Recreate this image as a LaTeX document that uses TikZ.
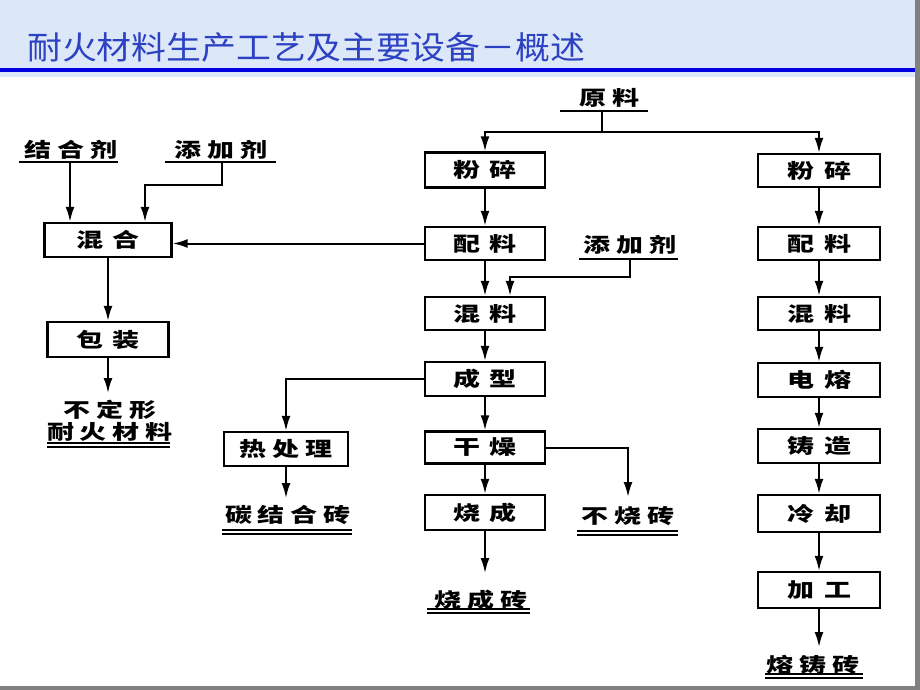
\documentclass[tikz,border=0pt]{standalone}
\usepackage{fontspec}
\usepackage{graphicx}
\setmainfont{Noto Sans CJK SC}
\newfontfamily\widecjk[FakeStretch=1.35]{Noto Sans CJK SC}
\newfontfamily\titlecjk[FakeStretch=1.09]{Noto Sans CJK SC}
\usetikzlibrary{arrows.meta,calc}
\definecolor{bandblue}{RGB}{220,232,248}
\definecolor{titleblue}{RGB}{45,65,195}
\definecolor{ruleblue}{RGB}{0,0,225}
\definecolor{edgegray}{RGB}{128,128,128}
\newcommand\bgap{\hspace{10pt}}
\newcommand\lgap{\hspace{6pt}}
\begin{document}
\begin{tikzpicture}[x=1pt,y=-1pt,
  box/.style={draw=black, line width=2.4pt, minimum width=120pt, minimum height=34pt, inner sep=0pt,
    font=\widecjk\bfseries\fontsize{20}{22}\selectfont},
  lab/.style={inner sep=0pt, font=\widecjk\bfseries\fontsize{20}{22}\selectfont},
  arr/.style={line width=2pt, -{Latex[length=15pt,width=9pt]}},
  con/.style={line width=2pt},
  ul/.style={line width=2pt},
  dul/.style={line width=2pt, double distance=1.5pt},
]
\useasboundingbox (0,0) rectangle (920,690);
% background
\fill[white] (0,0) rectangle (920,690);
\fill[bandblue] (0,0) rectangle (915,77);
\fill[ruleblue] (0,68) rectangle (915,72);
\fill[edgegray] (915,0) rectangle (920,690);
\fill[edgegray] (0,686) rectangle (920,690);
\node[anchor=west, inner sep=0pt, text=titleblue, font=\titlecjk\fontsize{32}{34}\selectfont] (title) at (27,47) {耐火材料生产工艺及主要设备－概述};

% labels (inputs)
\node[lab] (yl) at (609,98) {原\lgap 料};
\node[lab] (jhj) at (71,150) {结\lgap 合\lgap 剂};
\node[lab] (tj1) at (221,150) {添\lgap 加\lgap 剂};
\node[lab] (tj2) at (630,245) {添\lgap 加\lgap 剂};
\draw[ul] (560,111) -- (648,111);
\draw[ul] (19,162) -- (118,162);
\draw[ul] (165,162) -- (276,162);
\draw[ul] (579,259) -- (678,259);
\coordinate (ylb) at (602,111);
\coordinate (yj) at (602,132);
\coordinate (jhjb) at (70,162);
\coordinate (tj1b) at (222,162);
\coordinate (k1) at (145,185);
\coordinate (tj2b) at (630,259);
\coordinate (k2) at (510,277);

% left column
\node[box, minimum width=127pt, minimum height=34pt] (hh) at (108,240) {混\bgap 合};
\node[box, minimum width=121pt, minimum height=35pt] (bz) at (108,339.5) {包\bgap 装};
\node[lab, align=center] (bdx) at (110,421) {不\lgap 定\lgap 形\\耐\lgap 火\lgap 材\lgap 料};
\draw[dul] (47,445) -- (170,445);
\coordinate (bze) at (108,393);

% middle column
\node[box, minimum height=35pt] (m1) at (485,170) {粉\bgap 碎};
\node[box, minimum height=33pt] (m2) at (485,243.5) {配\bgap 料};
\node[box, minimum height=33pt] (m3) at (485,313.5) {混\bgap 料};
\node[box, minimum height=34pt] (m4) at (485,379) {成\bgap 型};
\node[box, minimum height=32pt] (m5) at (485,447.5) {干\bgap 燥};
\node[box, minimum height=35pt] (m6) at (485,512.5) {烧\bgap 成};
\node[lab] (scz) at (481,600) {烧\lgap 成\lgap 砖};
\draw[dul] (427,611) -- (530,611);
\coordinate (m6e) at (485,573);

% heat treatment branch
\node[box, minimum width=124pt, minimum height=34pt] (rcl) at (286,449) {热\lgap 处\lgap 理};
\node[lab] (tjh) at (288,515) {碳\lgap 结\lgap 合\lgap 砖};
\draw[dul] (222,532) -- (352,532);
\coordinate (rcle) at (286,498);

% unfired branch
\node[lab] (bsz) at (628,516) {不\lgap 烧\lgap 砖};
\draw[dul] (577,533) -- (678,533);
\coordinate (bse) at (628,497);

% right column
\node[box, minimum width=122pt, minimum height=33pt] (r1) at (819,170.5) {粉\bgap 碎};
\node[box, minimum width=122pt, minimum height=33pt] (r2) at (819,243.5) {配\bgap 料};
\node[box, minimum width=122pt, minimum height=33pt] (r3) at (819,313.5) {混\bgap 料};
\node[box, minimum width=122pt, minimum height=34pt] (r4) at (819,380) {电\bgap 熔};
\node[box, minimum width=122pt, minimum height=34pt] (r5) at (819,446) {铸\bgap 造};
\node[box, minimum width=122pt, minimum height=37pt] (r6) at (819,513.5) {冷\bgap 却};
\node[box, minimum width=122pt, minimum height=36pt] (r7) at (819,590) {加\bgap 工};
\node[lab] (rzz) at (813,665) {熔\lgap 铸\lgap 砖};
\draw[dul] (765,676) -- (863,676);
\coordinate (r7e) at (819,647);

% connectors
\draw[con] (ylb) -- (yj);
\draw[arr] (yj) -| (m1.north);
\draw[arr] (yj) -| (r1.north);
\draw[arr] (m1) -- (m2);
\draw[arr] (m2) -- (m3);
\draw[arr] (m3) -- (m4);
\draw[arr] (m4) -- (m5);
\draw[arr] (m5) -- (m6);
\draw[arr] (m6.south) -- (m6e);
\draw[arr] (tj2b) |- (k2) -- (k2 |- m3.north);
\draw[arr] (m2.west) -- (m2.west -| hh.east);
\draw[arr] (jhjb) -- (jhjb |- hh.north);
\draw[arr] (tj1b) |- (k1) -- (k1 |- hh.north);
\draw[arr] (hh) -- (bz);
\draw[arr] (bz.south) -- (bze);
\draw[arr] (m4.west) -| (rcl.north);
\draw[arr] (rcl.south) -- (rcle);
\draw[arr] (m5.east) -| (bse);
\draw[arr] (r1) -- (r2);
\draw[arr] (r2) -- (r3);
\draw[arr] (r3) -- (r4);
\draw[arr] (r4) -- (r5);
\draw[arr] (r5) -- (r6);
\draw[arr] (r6) -- (r7);
\draw[arr] (r7.south) -- (r7e);
\end{tikzpicture}
\end{document}
